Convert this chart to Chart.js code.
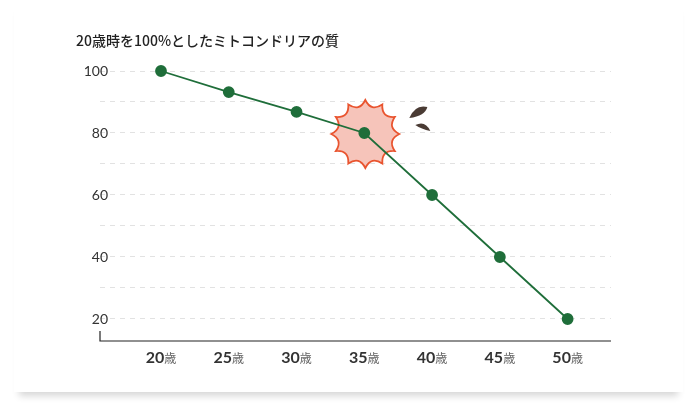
<!DOCTYPE html>
<html><head><meta charset="utf-8">
<script src="https://cdn.jsdelivr.net/npm/chart.js"></script>
<style>
html,body{margin:0;padding:0;background:#fff;}
#wrap{position:absolute;left:0;top:0;width:697px;height:410px;overflow:hidden;}
#card{position:absolute;left:14px;top:0;width:669px;height:392px;background:#fff;box-shadow:0 9px 7px -5px rgba(0,0,0,0.16);}
canvas{position:absolute;left:0;top:0;}
</style></head><body>
<div id="wrap"><div id="card"></div><canvas id="c" width="697" height="410"></canvas></div>
<script>
const title = "20歳時を100%としたミトコンドリアの質";
const ages = [20,25,30,35,40,45,50];
const quality = [100,93.2,86.8,80,60,40,20];
const yTicks = [20,30,40,50,60,70,80,90,100];
const yLabels = [20,40,60,80,100];
const burstAge = 35;

const deco = {
  id:'deco',
  beforeDatasetsDraw(ch){
    const c=ch.ctx,x=ch.scales.x,y=ch.scales.y;
    c.save();c.strokeStyle='#222';c.lineWidth=1.2;
    c.beginPath();c.moveTo(x.left,y.bottom-10);c.lineTo(x.left,y.bottom);c.lineTo(x.right,y.bottom);c.stroke();
    const i=ages.indexOf(burstAge);
    const cx=x.getPixelForValue(burstAge)+1, cy=y.getPixelForValue(quality[i])+1;
    const n=12, ro=34, ri=24;
    c.beginPath();
    for(let k=0;k<n;k++){
      const a0=(k/n)*Math.PI*2-Math.PI/2, a1=((k+0.5)/n)*Math.PI*2-Math.PI/2, a2=((k+1)/n)*Math.PI*2-Math.PI/2;
      const px=cx+ro*Math.cos(a0),py=cy+ro*Math.sin(a0);
      if(k===0)c.moveTo(px,py);
      c.quadraticCurveTo(cx+ri*0.95*Math.cos(a1),cy+ri*0.95*Math.sin(a1),cx+ro*Math.cos(a2),cy+ro*Math.sin(a2));
    }
    c.closePath();c.fillStyle='#f6c4ba';c.fill();c.strokeStyle='#e9542f';c.lineWidth=1.8;c.stroke();
    c.fillStyle='#4a3b34';
    c.beginPath();c.moveTo(cx+44,cy-16);c.quadraticCurveTo(cx+50,cy-30,cx+62,cy-27);c.quadraticCurveTo(cx+60,cy-18,cx+44,cy-16);c.fill();
    c.beginPath();c.moveTo(cx+50,cy-9);c.quadraticCurveTo(cx+60,cy-14,cx+65,cy-3);c.quadraticCurveTo(cx+56,cy-5,cx+50,cy-9);c.fill();
    c.restore();
  },
  afterDraw(ch){
    const c=ch.ctx,x=ch.scales.x,y=ch.scales.y;
    c.save();
    c.fillStyle='#222';c.font='500 14px "Noto Sans CJK JP"';c.textBaseline='middle';c.textAlign='left';
    c.fillText(title,76,41);
    c.textAlign='right';c.font='14px Lato';c.fillStyle='#333';
    yLabels.forEach(v=>c.fillText(String(v),108,y.getPixelForValue(v)));
    c.textBaseline='alphabetic';
    ages.forEach(a=>{
      const px=x.getPixelForValue(a);
      c.font='bold 16px Lato';const w1=c.measureText(String(a)).width;
      c.font='12px "Noto Sans CJK JP"';const w2=c.measureText('歳').width;
      let sx=px-(w1+w2)/2;
      c.textAlign='left';c.font='bold 16px Lato';c.fillStyle='#333';c.fillText(String(a),sx,363);
      c.font='12px "Noto Sans CJK JP"';c.fillStyle='#666';c.fillText('歳',sx+w1,363);
    });
    c.restore();
  }
};

new Chart(document.getElementById('c'),{
  type:'line',
  data:{datasets:[{data:ages.map((a,i)=>({x:a,y:quality[i]})),borderColor:'#1f6e3a',backgroundColor:'#1f6e3a',borderWidth:1.8,pointRadius:5,pointHoverRadius:5,tension:0,clip:false}]},
  options:{
    responsive:false,animation:false,events:[],
    layout:{padding:{left:100,right:86,top:71,bottom:69}},
    plugins:{legend:{display:false},tooltip:{enabled:false}},
    scales:{
      x:{type:'linear',min:15.5,max:53.2,display:false},
      y:{min:12.9,max:100,afterBuildTicks:s=>{s.ticks=yTicks.map(v=>({value:v}));},
        grid:{color:'#e2e2e2',drawTicks:false,lineWidth:1},border:{display:false,dash:[5,5]},ticks:{display:false}}
    }
  },
  plugins:[deco]
});
</script>
</body></html>
